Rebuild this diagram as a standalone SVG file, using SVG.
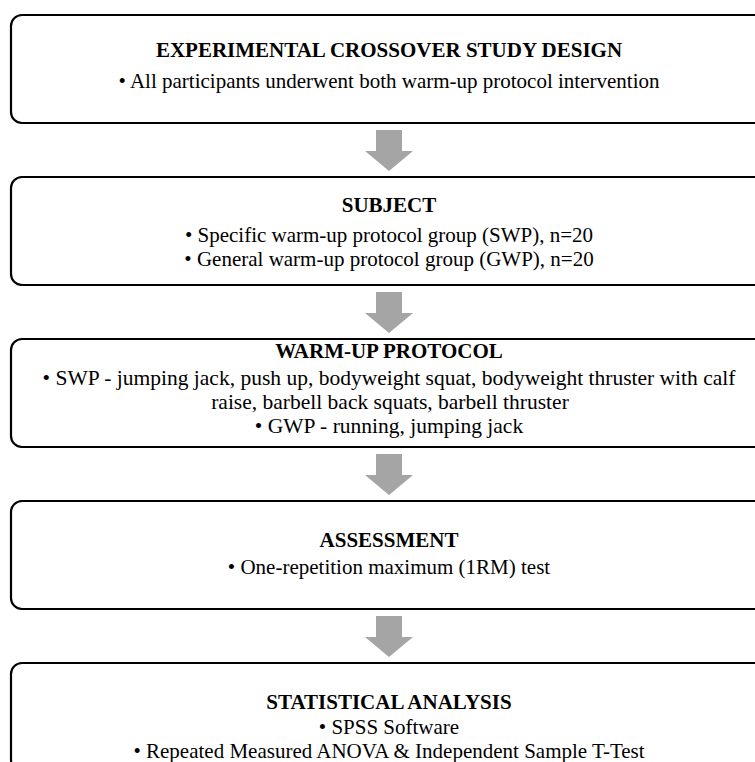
<svg xmlns="http://www.w3.org/2000/svg" width="755" height="762" viewBox="0 0 755 762">
<style>
.box{fill:#fff;stroke:#000;stroke-width:2.2}
.t{font-family:"Liberation Serif","Times New Roman",serif;font-size:21px;fill:#000;text-anchor:middle}
.w{font-size:21.5px}
.b{font-weight:bold}
.arr{fill:#a5a5a5}
</style>
<defs>
<path id="ar" d="M-13,0 H13 V21 H24 L0,41 L-24,21 H-13 Z"/>
</defs>
<rect width="755" height="762" fill="#fff"/>
<g id="connectors">
<use href="#ar" class="arr" x="389" y="130"/>
<use href="#ar" class="arr" x="389" y="292"/>
<use href="#ar" class="arr" x="389" y="454"/>
<use href="#ar" class="arr" x="389" y="616"/>
</g>
<g id="design">
<rect class="box" x="11" y="15" width="756" height="108" rx="11"/>
<text class="t b" x="389" y="57">EXPERIMENTAL CROSSOVER STUDY DESIGN</text>
<text class="t" x="389" y="88">• All participants underwent both warm-up protocol intervention</text>
</g>
<g id="subject">
<rect class="box" x="11" y="177" width="756" height="108" rx="11"/>
<text class="t b" x="389" y="212">SUBJECT</text>
<text class="t" x="389" y="242">• Specific warm-up protocol group (SWP), n=20</text>
<text class="t" x="389" y="266">• General warm-up protocol group (GWP), n=20</text>
</g>
<g id="warmup">
<rect class="box" x="11" y="339" width="756" height="108" rx="11"/>
<text class="t b" x="389" y="358">WARM-UP PROTOCOL</text>
<text class="t w" x="389" y="385">• SWP - jumping jack, push up, bodyweight squat, bodyweight thruster with calf</text>
<text class="t w" x="390" y="409">raise, barbell back squats, barbell thruster</text>
<text class="t w" x="389" y="433">• GWP - running, jumping jack</text>
</g>
<g id="assessment">
<rect class="box" x="11" y="501" width="756" height="108" rx="11"/>
<text class="t b" x="389" y="547">ASSESSMENT</text>
<text class="t" x="389" y="574">• One-repetition maximum (1RM) test</text>
</g>
<g id="analysis">
<rect class="box" x="11" y="663" width="756" height="108" rx="11"/>
<text class="t b" x="389" y="709">STATISTICAL ANALYSIS</text>
<text class="t" x="389" y="734">• SPSS Software</text>
<text class="t" x="389" y="758">• Repeated Measured ANOVA &amp; Independent Sample T-Test</text>
</g>
</svg>
